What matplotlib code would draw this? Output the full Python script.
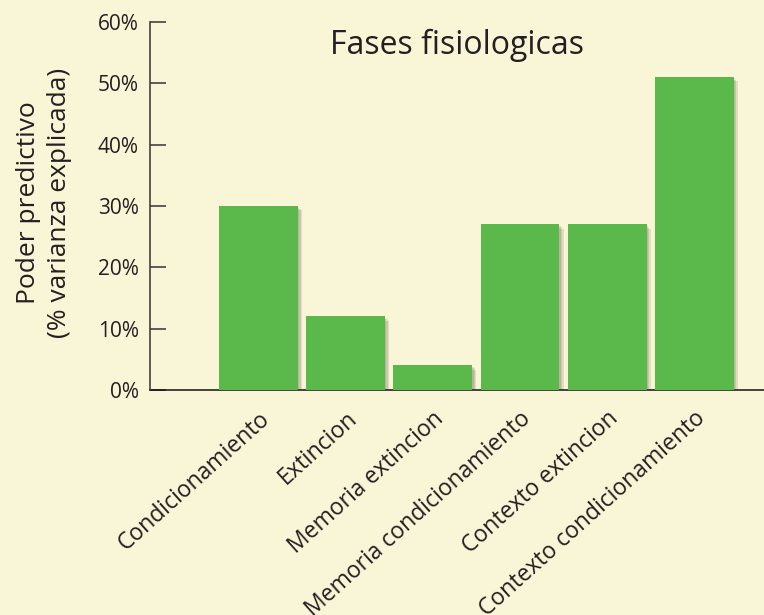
import numpy as np
import matplotlib.pyplot as plt
import matplotlib.patheffects as pe

# -------------------------
# Dati
# -------------------------
categorie = ["Condicionamiento", "Extincion", "Memoria extincion",
             "Memoria condicionamiento", "Contexto extincion",
             "Contexto condicionamiento"]
valori = [30, 12, 4, 27, 27, 51]          # % varianza explicada
y_ticks = [0, 10, 20, 30, 40, 50, 60]
y_labels = [f"{v}%" for v in y_ticks]
titolo = "Fases fisiologicas"
ylabel = "Poder predictivo\n(% varianza explicada)"

# -------------------------
# Stile
# -------------------------
sfondo = "#F9F5D7"
verde = "#5AB94A"
testo = "#231F20"
plt.rcParams["font.family"] = ["Open Sans", "DejaVu Sans"]

fig = plt.figure(figsize=(7.64, 6.15), dpi=100, facecolor=sfondo)
ax = fig.add_axes([150 / 764, 225 / 615, 614 / 764, 368 / 615])
ax.set_facecolor(sfondo)

x = np.arange(len(categorie))
# ombra sfumata: alcuni strati traslati
ombra = [pe.SimplePatchShadow(offset=(d, -d), shadow_rgbFace="#3a3020", alpha=0.12)
         for d in (1.0, 2.0, 3.0)]
ax.bar(x, valori, width=0.905, color=verde, zorder=3,
       path_effects=ombra + [pe.Normal()])

ax.set_xlim(-1.245, 5.80)
ax.set_ylim(0, 60)

# assi
for lato in ("top", "right"):
    ax.spines[lato].set_visible(False)
ax.spines["left"].set_color("#333333")
ax.spines["left"].set_linewidth(1.1)
ax.spines["bottom"].set_color("#111111")
ax.spines["bottom"].set_linewidth(1.1)
ax.spines["bottom"].set_zorder(2)

ax.set_yticks(y_ticks, y_labels)
ax.tick_params(axis="y", direction="in", length=11.5, width=1.1,
               color="#333333", pad=8, labelsize=15, labelcolor=testo)

# etichette x ruotate, come nell'originale le piu' lunghe escono dal bordo
ax.set_xticks(x, categorie)
ax.tick_params(axis="x", length=0, pad=12, labelsize=16.5, labelcolor=testo)
for lab in ax.get_xticklabels():
    lab.set_rotation(42)
    lab.set_rotation_mode("anchor")
    lab.set_ha("right")
    lab.set_va("top")

ax.text(0.5, 0.9375, titolo, transform=ax.transAxes, ha="center",
        va="center", fontsize=23, color=testo)
fig.text(44 / 764, (615 - 203) / 615, ylabel, rotation=90, ha="center",
         va="center", fontsize=19, color=testo, linespacing=1.3,
         multialignment="center")

fig.savefig("out.png", dpi=100, facecolor=sfondo)
